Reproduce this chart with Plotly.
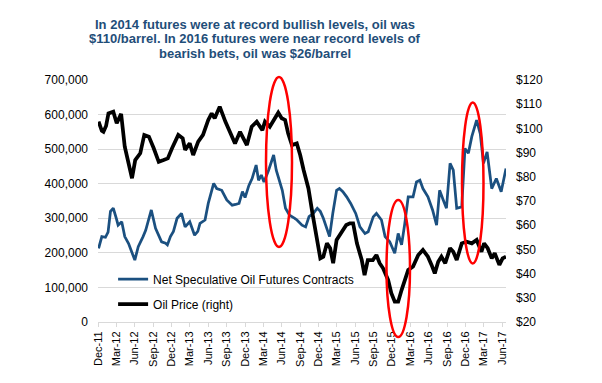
import pandas as pd
import plotly.graph_objects as go

# ---------------- data ----------------
spec_dates = [
    "2011-12-04", "2011-12-20", "2012-01-07", "2012-01-20", "2012-02-01", "2012-02-15",
    "2012-03-01", "2012-03-10", "2012-03-28", "2012-04-12", "2012-05-01", "2012-05-15",
    "2012-06-01", "2012-06-18", "2012-07-01", "2012-07-12", "2012-07-25", "2012-08-10",
    "2012-08-22", "2012-09-12", "2012-09-25", "2012-10-12", "2012-11-01", "2012-11-10",
    "2012-11-25", "2012-12-10", "2012-12-28", "2013-01-19", "2013-02-06", "2013-03-01",
    "2013-03-25", "2013-04-10", "2013-04-21", "2013-05-16", "2013-06-01", "2013-06-15",
    "2013-06-28", "2013-07-13", "2013-08-07", "2013-09-01", "2013-09-28", "2013-10-15",
    "2013-11-01", "2013-11-18", "2013-12-01", "2013-12-20", "2014-01-05", "2014-01-25",
    "2014-02-06", "2014-02-20", "2014-03-05", "2014-03-28", "2014-04-22", "2014-05-05",
    "2014-06-04", "2014-06-20", "2014-07-10", "2014-08-05", "2014-08-16", "2014-09-10",
    "2014-09-28", "2014-10-15", "2014-11-05", "2014-11-25", "2014-12-10", "2014-12-25",
    "2015-01-10", "2015-01-25", "2015-02-10", "2015-03-01", "2015-03-15", "2015-04-01",
    "2015-04-20", "2015-05-10", "2015-06-04", "2015-06-25", "2015-07-20", "2015-08-05",
    "2015-08-30", "2015-09-15", "2015-10-10", "2015-10-28", "2015-11-20", "2015-12-15",
    "2016-01-01", "2016-01-18", "2016-02-03", "2016-02-20", "2016-03-15", "2016-04-01",
    "2016-04-18", "2016-05-03", "2016-05-28", "2016-06-20", "2016-07-10", "2016-07-25",
    "2016-08-12", "2016-08-28", "2016-09-15", "2016-10-01", "2016-10-18", "2016-11-12",
    "2016-11-28", "2016-12-15", "2017-01-01", "2017-01-25", "2017-02-12", "2017-02-28",
    "2017-03-18", "2017-04-10", "2017-05-03", "2017-05-27", "2017-06-20",
]
spec_contracts = [
    213000, 247000, 245000, 260000, 320000, 329000,
    300000, 280000, 290000, 247000, 227000, 205000,
    179000, 218000, 232000, 247000, 265000, 304000,
    324000, 271000, 255000, 232000, 228000, 223000,
    247000, 262000, 300000, 314000, 275000, 290000,
    251000, 262000, 285000, 295000, 343000, 370000,
    401000, 386000, 381000, 353000, 338000, 340000,
    343000, 377000, 360000, 395000, 415000, 454000,
    410000, 425000, 405000, 439000, 483000, 439000,
    381000, 329000, 309000, 300000, 295000, 280000,
    275000, 305000, 314000, 329000, 320000, 300000,
    275000, 247000, 314000, 381000, 386000, 377000,
    362000, 343000, 314000, 275000, 256000, 261000,
    304000, 314000, 295000, 247000, 232000, 199000,
    256000, 223000, 285000, 362000, 362000, 405000,
    410000, 386000, 362000, 324000, 280000, 381000,
    353000, 329000, 459000, 439000, 329000, 333000,
    502000, 488000, 536000, 584000, 545000, 459000,
    492000, 386000, 415000, 377000, 444000,
]

oil_dates = [
    "2011-12-04", "2011-12-20", "2011-12-28", "2012-01-10", "2012-01-22", "2012-02-15",
    "2012-03-03", "2012-03-25", "2012-04-12", "2012-05-01", "2012-05-18", "2012-06-03",
    "2012-06-28", "2012-07-18", "2012-08-10", "2012-09-03", "2012-09-28", "2012-10-22",
    "2012-11-12", "2012-12-03", "2013-01-03", "2013-01-25", "2013-02-06", "2013-03-01",
    "2013-03-18", "2013-04-12", "2013-05-06", "2013-06-01", "2013-06-18", "2013-07-03",
    "2013-07-28", "2013-08-25", "2013-09-18", "2013-09-28", "2013-10-12", "2013-11-06",
    "2013-12-10", "2014-01-03", "2014-01-28", "2014-02-25", "2014-03-10", "2014-04-03",
    "2014-04-25", "2014-05-15", "2014-06-01", "2014-06-18", "2014-07-03", "2014-07-22",
    "2014-08-15", "2014-09-01", "2014-09-18", "2014-10-12", "2014-11-01", "2014-11-22",
    "2014-12-10", "2014-12-25", "2015-01-12", "2015-01-28", "2015-02-12", "2015-03-01",
    "2015-03-25", "2015-04-18", "2015-05-06", "2015-05-22", "2015-06-10", "2015-07-04",
    "2015-07-18", "2015-08-03", "2015-08-28", "2015-09-15", "2015-10-01", "2015-10-18",
    "2015-11-12", "2015-11-28", "2015-12-15", "2016-01-01", "2016-01-18", "2016-02-03",
    "2016-02-20", "2016-03-15", "2016-04-10", "2016-05-03", "2016-05-28", "2016-06-15",
    "2016-07-01", "2016-07-18", "2016-08-03", "2016-08-22", "2016-09-15", "2016-10-01",
    "2016-10-18", "2016-11-12", "2016-12-06", "2017-01-01", "2017-01-25", "2017-02-18",
    "2017-03-03", "2017-03-21", "2017-04-10", "2017-04-25", "2017-05-18", "2017-06-03",
    "2017-06-20",
]
oil_price = [
    102.8, 99.0, 98.6, 101.0, 106.2, 106.9,
    102.1, 106.0, 92.4, 85.6, 79.4, 86.9,
    89.7, 97.3, 96.6, 91.8, 86.2, 86.9,
    87.6, 91.8, 97.3, 95.9, 91.1, 93.8,
    89.0, 94.5, 97.3, 103.5, 106.2, 104.2,
    109.0, 102.8, 98.0, 96.6, 93.8, 98.6,
    93.1, 100.7, 102.8, 99.3, 102.8, 100.7,
    103.5, 106.5, 104.2, 103.5, 98.0, 93.1,
    93.8, 89.0, 82.8, 75.2, 64.9, 55.2,
    46.3, 47.0, 52.5, 50.5, 44.3, 53.9,
    57.3, 60.1, 60.8, 60.8, 52.5, 45.6,
    39.4, 45.6, 45.6, 47.7, 44.3, 42.2,
    37.4, 31.9, 28.4, 28.4, 33.2, 36.7,
    41.5, 42.9, 47.7, 49.8, 47.0, 43.6,
    40.1, 44.9, 47.0, 44.3, 50.5, 49.0,
    45.6, 52.5, 53.2, 52.5, 53.9, 49.0,
    52.5, 50.5, 46.3, 48.4, 43.6, 46.3,
    47.0,
]

tick_dates = pd.date_range("2011-12-01", "2017-06-01", freq="3MS")
tick_labels = [d.strftime("%b-%y") for d in tick_dates]

title_lines = [
    "In 2014 futures were at record bullish levels, oil was",
    "$110/barrel. In 2016 futures were near record levels of",
    "bearish bets, oil was $26/barrel",
]

FONT = "Liberation Sans, Arial, sans-serif"
BLUE = "#1b5080"
TITLE_BLUE = "#1f4e79"
GRID = "#d9d9d9"

fig = go.Figure()
fig.add_trace(go.Scatter(
    x=spec_dates, y=spec_contracts, mode="lines",
    name="Net Speculative Oil Futures Contracts",
    line=dict(color=BLUE, width=2.75),
    legendgroup="a",
))
fig.add_trace(go.Scatter(
    x=oil_dates, y=oil_price, mode="lines", yaxis="y2",
    name="Oil Price (right)",
    line=dict(color="#000000", width=3.75),
    legendgroup="b",
))

# title lines (as annotations for tight line spacing)
title_y_px = [24.5, 38.8, 53.1]
for txt, ypx in zip(title_lines, title_y_px):
    fig.add_annotation(
        text=f"<b>{txt}</b>", xref="paper", yref="paper",
        x=(255 - 98) / 408, y=(322 - ypx) / 242,
        xanchor="center", yanchor="middle", showarrow=False,
        font=dict(family=FONT, size=13, color=TITLE_BLUE),
    )

# red highlight ellipses (paper coords)
ellipses = [
    (266, 292, 77, 247),
    (386.5, 410, 200, 337),
    (462, 483.5, 102.5, 263.5),
]
for x0, x1, y0, y1 in ellipses:
    fig.add_shape(
        type="circle", xref="paper", yref="paper",
        x0=(x0 - 98) / 408, x1=(x1 - 98) / 408,
        y0=(322 - y1) / 242, y1=(322 - y0) / 242,
        line=dict(color="#ff0000", width=2.5),
    )

fig.update_layout(
    width=602, height=383,
    margin=dict(l=98, r=96, t=80, b=61),
    paper_bgcolor="white", plot_bgcolor="white",
    font=dict(family=FONT, size=12, color="#000000"),
    showlegend=True,
    hovermode=False,
    legend=dict(
        x=0.037, y=0.237, xanchor="left", yanchor="top",
        bgcolor="rgba(0,0,0,0)", borderwidth=0,
        font=dict(family=FONT, size=12, color="#000000"),
        tracegroupgap=6, itemwidth=30,
    ),
    xaxis=dict(
        type="date",
        range=["2011-12-01", "2017-06-20"],
        tickmode="array", tickvals=tick_dates, ticktext=tick_labels,
        tickangle=-90, tickfont=dict(family=FONT, size=11, color="#000000"),
        showgrid=False, showline=True, linecolor=GRID, linewidth=1,
        ticks="outside", ticklen=4, tickcolor=GRID,
        zeroline=False, automargin=False,
    ),
    yaxis=dict(
        range=[0, 700000], dtick=100000, tickformat=",d",
        showgrid=True, gridcolor=GRID, gridwidth=1,
        zeroline=False, showline=False,
        tickfont=dict(family=FONT, size=12, color="#000000"),
        ticks="", ticklabelstandoff=9, automargin=False,
    ),
    yaxis2=dict(
        overlaying="y", side="right",
        range=[20, 120], dtick=10, tickprefix="$",
        showgrid=False, zeroline=False, showline=False,
        tickfont=dict(family=FONT, size=12, color="#000000"),
        ticks="", ticklabelstandoff=9, automargin=False,
    ),
)

fig.write_html(
    "out.html",
    config={"displayModeBar": False, "staticPlot": True},
    post_script="document.body.style.margin='0';",
)
